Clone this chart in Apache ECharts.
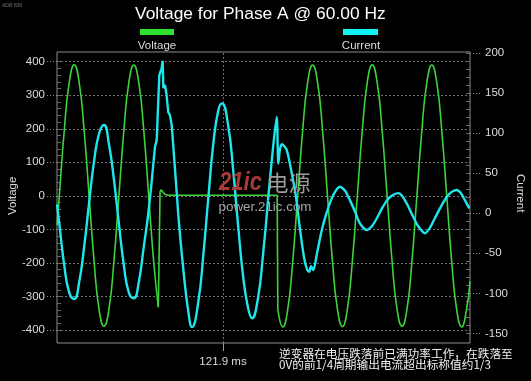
<!DOCTYPE html>
<html><head><meta charset="utf-8">
<script src="https://cdn.jsdelivr.net/npm/echarts@6.0.0/dist/echarts.min.js"></script>
<style>html,body{margin:0;padding:0;background:#000}#c{width:531px;height:381px}</style>
</head><body><div id="c"></div>
<script>
// ---------- texts ----------
const TITLE = 'Voltage for Phase A @ 60.00 Hz';
const SERIES_NAMES = ['Voltage', 'Current'];
const NOTE = '逆变器在电压跌落前已满功率工作，在跌落至\n0V的前1/4周期输出电流超出标称值约1/3';

// ---------- axes (time in ms) ----------
const X_MIN = 75.48, X_MAX = 190.97;
const X_TICKS = [121.9];
const V_MIN = -400, V_MAX = 400, V_STEP = 100;
const C_MIN = -150, C_MAX = 200, C_STEP = 50;

// ---------- Voltage (V) ----------
const vT1 = [75.48, 76.12, 77.51, 78.90, 80.29, 81.68, 83.07, 84.46, 85.85, 87.23, 88.62, 90.01, 91.40, 92.79, 94.18, 95.57, 96.96, 98.35, 99.74, 101.12, 102.51, 103.81];
const vV1 = [-88, 0, 195, 338, 391, 338, 195, 0, -195, -338, -389, -338, -195, 0, 195, 338, 390, 338, 195, 0, -195, -332];
const vT2 = [103.81, 104.30, 104.60, 105.00, 105.60, 106.50, 137.05, 137.23];
const vV2 = [-332, 12, 18, 16, 5, 2, 2, -338];
const vT3 = [137.23, 138.62, 140.01, 141.40, 142.79, 144.18, 145.57, 146.96, 148.35, 149.74, 151.12, 152.51, 153.90, 155.29, 156.68, 158.07, 159.46, 160.85, 162.24, 163.62, 165.01, 166.40, 167.79, 169.18, 170.57, 171.96, 173.35, 174.74, 176.12, 177.51, 178.90, 180.29, 181.68, 183.07, 184.46, 185.85, 187.23, 188.62, 190.01, 190.97];
const vV3 = [-338, -391, -338, -195, 0, 195, 338, 390, 338, 195, 0, -195, -338, -390, -338, -195, 0, 195, 338, 391, 338, 195, 0, -195, -338, -389, -338, -195, 0, 195, 338, 390, 338, 195, 0, -195, -338, -391, -338, -255];

// ---------- Current (A) ----------
const cT1 = [75.48, 76.12, 77.51, 78.90, 80.29, 81.68, 83.07, 84.46, 85.85, 87.23, 88.62, 90.01, 91.40, 92.79, 94.18, 95.57, 96.96, 98.35, 99.74, 101.12, 102.51];
const cV1 = [11, -13, -65, -99, -107, -86, -42, 13, 65, 99, 110, 86, 42, -13, -65, -99, -106, -86, -42, 4, 66];
const cT2 = [102.51, 102.88, 103.36, 104.09, 104.70, 105.04, 105.21, 105.68, 106.10, 106.60, 107.08, 107.55, 108.48, 109.40];
const cV2 = [66, 83, 91, 172, 180, 190, 156, 160, 148, 126, 122, 110, 55, -2];
const cT3 = [109.40, 110.85, 112.24, 113.23, 115.01, 116.40, 117.79, 119.18, 120.57, 121.62, 123.35, 124.74, 126.12, 127.51, 128.90, 130.01, 131.68, 133.07, 134.48];
const cV3 = [-2, -72, -124, -142, -110, -52, 19, 86, 128, 137, 109, 54, -15, -78, -118, -131, -106, -53, 16];
const cT4 = [134.48, 135.74, 136.92, 137.36, 137.84, 138.40, 139.71, 141.11, 142.31, 143.43, 144.55, 145.39, 146.03, 146.51, 147.15, 148.19, 149.58, 150.98, 152.66, 154.62, 156.02, 157.41, 158.81, 160.21, 162.08, 163.57, 164.96, 166.36, 167.76, 169.16, 170.92, 172.24, 173.63, 175.03, 176.43, 178.39, 179.79, 181.18, 182.58, 184.26, 185.66, 187.25, 188.45, 189.57, 190.78];
const cV4 = [16, 75, 120, 62, 80, 86, 79, 50, 20, -20, -55, -70, -73, -66, -71, -50, -20, 2, 22, 33, 28, 16, 2, -13, -21, -16, -6, 6, 16, 22, 25, 20, 9, -4, -16, -25, -18, -6, 6, 19, 26, 29, 25, 16, 6];

// ---------- styling ----------
const GREEN = '#3bd33b', CYAN = '#1de6ec';
const LABEL = '#dcdcdc', TICK = '#8a8a8a';
const FONT = 'Liberation Sans, Arial, sans-serif';

const zip = (ts, vs) => ts.map((t, i) => [t, vs[i]]);
const hiddenX = (g) => ({ gridIndex: g, type: 'value', min: X_MIN, max: X_MAX, show: false });

const chart = echarts.init(document.getElementById('c'), null, { renderer: 'canvas' });

const vSeries = (t, v, smooth) => ({
  type: 'line', name: SERIES_NAMES[0], xAxisIndex: 2, yAxisIndex: 1, data: zip(t, v),
  smooth: smooth, showSymbol: false, silent: true, lineStyle: { color: GREEN, width: 1.6 }
});
const cSeries = (t, v, smooth) => ({
  type: 'line', name: SERIES_NAMES[1], xAxisIndex: 3, yAxisIndex: 3, data: zip(t, v),
  smooth: smooth, showSymbol: false, silent: true, lineStyle: { color: CYAN, width: 2.4 }
});

const gridBase = { left: 57, width: 413, containLabel: false, outerBoundsMode: 'none' };

chart.setOption({
  animation: false,
  backgroundColor: '#000',
  textStyle: { fontFamily: FONT },
  title: {
    text: TITLE, left: 135, top: 6, padding: 0,
    textStyle: { color: '#fff', fontSize: 17.4, fontWeight: 'normal', fontFamily: FONT }
  },
  grid: [
    Object.assign({ top: 52, height: 291, show: true, borderColor: '#8c8c8c', borderWidth: 1, backgroundColor: 'transparent' }, gridBase),
    Object.assign({ top: 61.7, height: 268.3 }, gridBase),
    Object.assign({ top: 52.8, height: 280.7 }, gridBase)
  ],
  xAxis: [
    { gridIndex: 0, type: 'value', min: X_MIN, max: X_MAX, position: 'bottom',
      axisLine: { show: false }, splitLine: { show: false }, axisLabel: { show: false },
      axisTick: { show: true, inside: true, length: 291, customValues: X_TICKS, lineStyle: { color: '#6e6e6e', type: [2, 2] } } },
    { gridIndex: 0, type: 'value', min: X_MIN, max: X_MAX, position: 'bottom',
      axisLine: { show: false }, splitLine: { show: false },
      axisTick: { show: true, length: 8, customValues: X_TICKS, lineStyle: { color: '#9a9a9a' } },
      axisLabel: { customValues: X_TICKS, formatter: v => v.toFixed(1) + ' ms', margin: 13, color: LABEL, fontSize: 11.5 } },
    hiddenX(1),
    hiddenX(2)
  ],
  yAxis: [
    { gridIndex: 0, type: 'value', min: 0, max: 1, show: false },
    { gridIndex: 1, type: 'value', position: 'left', min: V_MIN, max: V_MAX, interval: V_STEP,
      name: SERIES_NAMES[0], nameLocation: 'middle', nameRotate: 90, nameGap: 38, nameMoveOverlap: false,
      nameTextStyle: { color: LABEL, fontSize: 11.5 },
      axisLine: { show: false },
      axisTick: { show: true, length: 10, lineStyle: { color: TICK, type: [1, 2] } },
      axisLabel: { margin: 12, color: LABEL, fontSize: 11.5 },
      splitLine: { show: true, lineStyle: { color: '#707070', type: [2, 2], width: 1 } } },
    { gridIndex: 1, type: 'value', position: 'left', min: V_MIN, max: V_MAX, interval: 20,
      axisLine: { show: false }, axisLabel: { show: false }, splitLine: { show: false },
      axisTick: { show: true, inside: true, length: 4, lineStyle: { color: '#6a6a6a' } } },
    { gridIndex: 2, type: 'value', position: 'right', min: C_MIN, max: C_MAX, interval: C_STEP,
      name: SERIES_NAMES[1], nameLocation: 'middle', nameRotate: -90, nameGap: 44, nameMoveOverlap: false,
      nameTextStyle: { color: LABEL, fontSize: 11.5 },
      axisLine: { show: false },
      axisTick: { show: true, length: 11, lineStyle: { color: TICK, type: [1, 2] } },
      axisLabel: { margin: 15, color: LABEL, fontSize: 11.5 },
      splitLine: { show: false } },
    { gridIndex: 2, type: 'value', position: 'right', min: C_MIN, max: C_MAX, interval: 10,
      axisLine: { show: false }, axisLabel: { show: false }, splitLine: { show: false },
      axisTick: { show: true, inside: true, length: 4, lineStyle: { color: '#6a6a6a' } } }
  ],
  series: [
    vSeries(vT1, vV1, 0.5),
    vSeries(vT2, vV2, false),
    vSeries(vT3, vV3, 0.5),
    cSeries(cT1, cV1, 0.5),
    cSeries(cT2, cV2, false),
    cSeries(cT3, cV3, 0.5),
    cSeries(cT4, cV4, 0.25)
  ],
  graphic: [
    { type: 'text', left: 2, top: 3, style: { text: 'ADR 830', fill: '#777', font: '5px ' + FONT } },
    // legend
    { type: 'rect', shape: { x: 140, y: 29, width: 34, height: 6 }, style: { fill: '#2fe22f' } },
    { type: 'text', x: 157, y: 45.5, style: { text: SERIES_NAMES[0], fill: LABEL, font: '11.5px ' + FONT, align: 'center', verticalAlign: 'middle' } },
    { type: 'rect', shape: { x: 343, y: 29, width: 35, height: 6 }, style: { fill: '#0ff5f5' } },
    { type: 'text', x: 361, y: 45.5, style: { text: SERIES_NAMES[1], fill: LABEL, font: '11.5px ' + FONT, align: 'center', verticalAlign: 'middle' } },
    // watermark
    { type: 'text', x: 240.5, y: 182.5, scaleY: 1.2, z: 50, style: { text: '21ic', fill: '#a83a38', font: 'italic bold 22px ' + FONT, align: 'center', verticalAlign: 'middle' } },
    { type: 'text', x: 288.5, y: 182.5, z: 50, style: { text: '电源', fill: '#9c9c9c', font: '22px "Noto Sans CJK SC"', align: 'center', verticalAlign: 'middle' } },
    { type: 'text', x: 265, y: 207.5, z: 50, style: { text: 'power.21ic.com', fill: '#a4a4a4', font: '13.4px ' + FONT, align: 'center', verticalAlign: 'middle' } },
    // note
    { type: 'text', x: 279, y: 348, z: 50, style: { text: NOTE, fill: '#f2f2f2', font: '11.7px "Noto Sans CJK SC"', lineHeight: 11, align: 'left', verticalAlign: 'top' } }
  ]
});
</script></body></html>
